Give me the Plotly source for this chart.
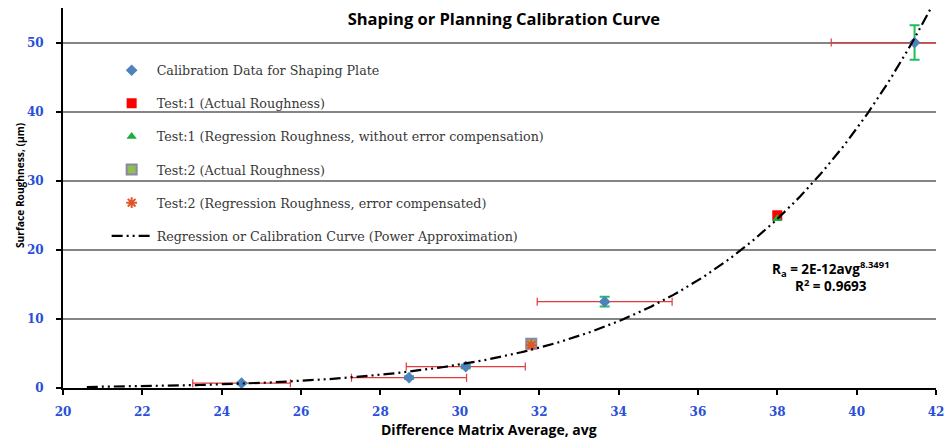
import numpy as np
import plotly.graph_objects as go

# ---- data ----
calib_x = [24.5, 28.72, 30.15, 33.65, 41.46]
calib_y = [0.7, 1.5, 3.1, 12.5, 50.0]
calib_xerr = [1.23, 1.45, 1.5, 1.7, 2.1]
calib_yerr = [0.15, 0.2, 0.25, 0.7, 2.5]

test1_actual_x = [38.0]
test1_actual_y = [25.0]
test1_reg_x = [38.0]
test1_reg_y = [24.5]

test2_actual_x = [31.8]
test2_actual_y = [6.4]
test2_reg_x = [31.8]
test2_reg_y = [6.2]

# power trendline  Ra = a * avg^b  (label shows 2E-12, exponent 8.3491)
trend_coef = 1.58e-12
trend_exp = 8.3491
trend_x_start, trend_x_end = 20.6, 41.85

x_ticks = [20, 22, 24, 26, 28, 30, 32, 34, 36, 38, 40, 42]
y_ticks = [0, 10, 20, 30, 40, 50]

names = [
    "Calibration Data for Shaping Plate",
    "Test:1 (Actual Roughness)",
    "Test:1 (Regression Roughness, without error compensation)",
    "Test:2 (Actual Roughness)",
    "Test:2 (Regression Roughness, error compensated)",
    "Regression or Calibration Curve (Power Approximation)",
]

curve_x = np.linspace(trend_x_start, trend_x_end, 300)
curve_y = trend_coef * curve_x ** trend_exp

fig = go.Figure()

fig.add_trace(go.Scatter(
    x=calib_x, y=calib_y, mode="markers", name=names[0], legendrank=1,
    legendgroup="g1",
    marker=dict(symbol="diamond", size=9, color="#4f81bd"),
    error_x=dict(type="data", array=calib_xerr, color="#e0393e", thickness=1.2, width=4),
    error_y=dict(type="data", array=calib_yerr, color="#1fbf5a", thickness=2, width=5),
))
fig.add_trace(go.Scatter(
    x=test1_actual_x, y=test1_actual_y, mode="markers", name=names[1], legendrank=2,
    legendgroup="g2",
    marker=dict(symbol="square", size=10, color="#ff0000"),
))
fig.add_trace(go.Scatter(
    x=test1_reg_x, y=test1_reg_y, mode="markers", name=names[2], legendrank=3,
    legendgroup="g3",
    marker=dict(symbol="triangle-up", size=9, color="#1fae3c"),
))
fig.add_trace(go.Scatter(
    x=test2_actual_x, y=test2_actual_y, mode="markers", name=names[3], legendrank=4,
    legendgroup="g4",
    marker=dict(symbol="square", size=10, color="#8fbf50",
                line=dict(color="#8a86a8", width=2)),
))
fig.add_trace(go.Scatter(
    x=test2_reg_x, y=test2_reg_y, mode="markers", name=names[4], legendrank=5,
    legendgroup="g5",
    marker=dict(symbol="asterisk-open", size=9, color="#e2532a",
                line=dict(color="#e2532a", width=2)),
))
fig.add_trace(go.Scatter(
    x=curve_x, y=curve_y, mode="lines", name=names[5], legendrank=6,
    legendgroup="g6",
    line=dict(color="black", width=2.2, dash="11px,4px,2px,4px,2px,4px"),
))

tick_font = dict(family="DejaVu Serif", size=12, color="#2a4fd8", weight="bold")

fig.update_layout(
    width=947, height=441,
    margin=dict(l=63, r=11, t=8, b=53),
    paper_bgcolor="white", plot_bgcolor="white",
    showlegend=True,
    legend=dict(
        x=0.05, y=0.875, xanchor="left", yanchor="top",
        bgcolor="rgba(0,0,0,0)", borderwidth=0,
        font=dict(family="DejaVu Serif", size=12.7, color="#383838"),
        tracegroupgap=13.6, itemwidth=40,
    ),
    title=dict(
        text="<b>Shaping or Planning Calibration Curve</b>",
        x=0.505, xanchor="center", xref="paper",
        y=0.957, yanchor="middle", yref="container",
        font=dict(family="Open Sans", size=16.5, color="black"),
    ),
    xaxis=dict(
        range=[20, 42], tickmode="array", tickvals=x_ticks,
        showgrid=False, zeroline=False, automargin=False,
        showline=True, linecolor="black", linewidth=2,
        ticks="outside", ticklen=5, tickwidth=2, tickcolor="black",
        tickfont=tick_font, ticklabelstandoff=7,
    ),
    yaxis=dict(
        range=[0, 55], tickmode="array", tickvals=y_ticks,
        showgrid=True, gridcolor="#858585", gridwidth=1.5,
        zeroline=False, automargin=False,
        showline=True, linecolor="black", linewidth=2,
        ticks="outside", ticklen=5, tickwidth=2, tickcolor="black",
        tickfont=tick_font, ticklabelstandoff=10,
    ),
    annotations=[
        dict(text="<b>Difference Matrix Average, avg</b>", xref="paper", yref="paper",
             x=0.488, y=-0.11, xanchor="center", yanchor="middle", showarrow=False,
             font=dict(family="Open Sans", size=14, color="black")),
        dict(text="<b>Surface Roughness, (µm)</b>", xref="paper", yref="paper",
             x=-0.05, y=0.535, xanchor="center", yanchor="middle", showarrow=False,
             textangle=-90,
             font=dict(family="Open Sans", size=10.2, color="black")),
        dict(text="<b>R<sub>a</sub> = 2E-12avg<sup>8.3491</sup><br>R<sup>2</sup> = 0.9693</b>",
             xref="paper", yref="paper", x=0.88, y=0.293, xanchor="center", yanchor="middle",
             showarrow=False, align="center",
             font=dict(family="Open Sans", size=13.5, color="black")),
    ],
)

fig.write_html(
    "out.html",
    config={"displayModeBar": False},
    post_script="document.body.style.margin='0';document.body.style.overflow='hidden';",
)
